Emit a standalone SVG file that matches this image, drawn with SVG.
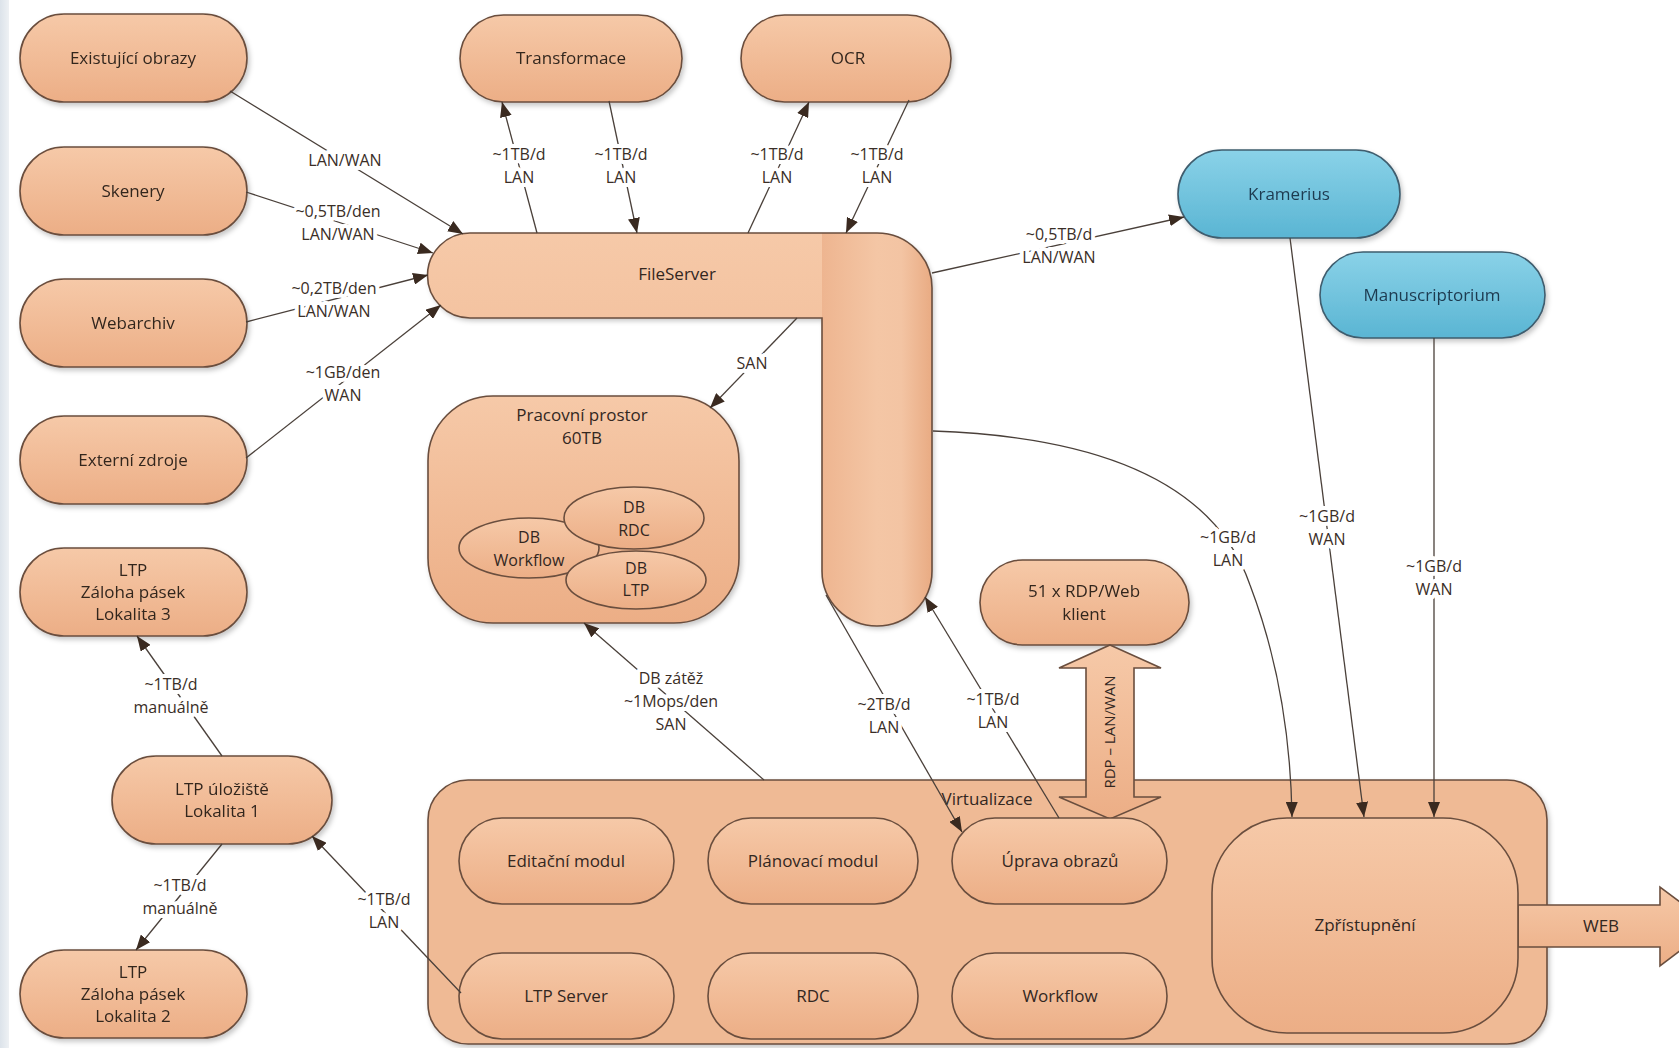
<svg xmlns="http://www.w3.org/2000/svg" width="1679" height="1048" viewBox="0 0 1679 1048">
<defs>
<linearGradient id="peach" x1="0" y1="0" x2="0" y2="1">
<stop offset="0" stop-color="#F6C9A8"/><stop offset="1" stop-color="#ECAE86"/>
</linearGradient>
<linearGradient id="blueg" x1="0" y1="0" x2="0" y2="1">
<stop offset="0" stop-color="#8AD2E8"/><stop offset="1" stop-color="#5AB5D3"/>
</linearGradient>
<linearGradient id="vbar" x1="0" y1="0" x2="1" y2="0">
<stop offset="0" stop-color="#EEB590"/><stop offset="0.5" stop-color="#F4C6A5"/><stop offset="0.72" stop-color="#F3C4A3"/><stop offset="1" stop-color="#E9AB83"/>
</linearGradient>
<linearGradient id="band" x1="0" y1="0" x2="1" y2="0">
<stop offset="0" stop-color="#DCE3EA"/><stop offset="1" stop-color="#EEF1F4"/>
</linearGradient>
<filter id="sh" x="-10%" y="-10%" width="125%" height="130%">
<feDropShadow dx="2" dy="3" stdDeviation="2.5" flood-color="#000" flood-opacity="0.22"/>
</filter>
<clipPath id="lclip"><path d="M470,233 L877,233 A55,55 0 0 1 932,288 L932,571 A55,55 0 0 1 822,571 L822,318 L470,318 A42.5,42.5 0 0 1 470,233 Z"/></clipPath>
<marker id="ah" viewBox="0 0 15 12" refX="15" refY="6" markerWidth="15" markerHeight="12" markerUnits="userSpaceOnUse" orient="auto">
<path d="M0,0 L15,6 L0,12 Z" fill="#3a2a20"/>
</marker>
<style>
.pill{fill:url(#peach);stroke:#6a4e3e;stroke-width:1.6}
.blue{fill:url(#blueg);stroke:#3f5d6e;stroke-width:1.6}
.big{fill:#EFBA95;stroke:#6a4e3e;stroke-width:1.6}
.sh{filter:url(#sh)}
.t{font-family:"Open Sans","Liberation Sans",sans-serif;font-size:17px;fill:#33271f;text-anchor:middle}
.tb{font-family:"Open Sans","Liberation Sans",sans-serif;font-size:17px;fill:#1e3a50;text-anchor:middle}
.s{font-size:16px}
.lbl{font-family:"Open Sans","Liberation Sans",sans-serif;font-size:16px;fill:#3a2e27;text-anchor:middle;stroke:#fff;stroke-width:8;stroke-linejoin:round;paint-order:stroke}
.ln{stroke:#4a403a;stroke-width:1.3;fill:none}
.arr{marker-end:url(#ah)}
</style>
</defs>
<rect width="1679" height="1048" fill="#fff"/>
<rect x="0" y="0" width="9" height="1048" fill="url(#band)"/>

<g id="existujici" class="sh"><rect class="pill" x="20" y="14" width="227" height="88" rx="44"/><text class="t" x="133" y="64">Existující obrazy</text></g>
<g id="skenery" class="sh"><rect class="pill" x="20" y="147" width="227" height="88" rx="44"/><text class="t" x="133" y="197">Skenery</text></g>
<g id="webarchiv" class="sh"><rect class="pill" x="20" y="279" width="227" height="88" rx="44"/><text class="t" x="133" y="329">Webarchiv</text></g>
<g id="externi" class="sh"><rect class="pill" x="20" y="416" width="227" height="88" rx="44"/><text class="t" x="133" y="466">Externí zdroje</text></g>
<g id="ltp3" class="sh"><rect class="pill" x="20" y="548" width="227" height="88" rx="44"/><text class="t" x="133" y="576">LTP</text><text class="t" x="133" y="598">Záloha pásek</text><text class="t" x="133" y="620">Lokalita 3</text></g>
<g id="ltp1" class="sh"><rect class="pill" x="112" y="756" width="220" height="88" rx="44"/><text class="t" x="222" y="795">LTP úložiště</text><text class="t" x="222" y="817">Lokalita 1</text></g>
<g id="ltp2" class="sh"><rect class="pill" x="20" y="950" width="227" height="88" rx="44"/><text class="t" x="133" y="978">LTP</text><text class="t" x="133" y="1000">Záloha pásek</text><text class="t" x="133" y="1022">Lokalita 2</text></g>

<g id="transformace" class="sh"><rect class="pill" x="460" y="15" width="222" height="87" rx="43.5"/><text class="t" x="571" y="64">Transformace</text></g>
<g id="ocr" class="sh"><rect class="pill" x="741" y="15" width="210" height="87" rx="43.5"/><text class="t" x="848" y="64">OCR</text></g>

<g id="fileserver">
<path class="sh" d="M470,233 L877,233 A55,55 0 0 1 932,288 L932,571 A55,55 0 0 1 822,571 L822,318 L470,318 A42.5,42.5 0 0 1 470,233 Z" fill="url(#peach)"/>
<rect x="822" y="233" width="110" height="400" fill="url(#vbar)" clip-path="url(#lclip)"/>
<path d="M470,233 L877,233 A55,55 0 0 1 932,288 L932,571 A55,55 0 0 1 822,571 L822,318 L470,318 A42.5,42.5 0 0 1 470,233 Z" fill="none" stroke="#6a4e3e" stroke-width="1.6"/>
<text class="t" x="677" y="280">FileServer</text>
</g>

<g id="kramerius" class="sh"><rect class="blue" x="1178" y="150" width="222" height="88" rx="44"/><text class="tb" x="1289" y="200">Kramerius</text></g>
<g id="manuscriptorium" class="sh"><rect class="blue" x="1320" y="252" width="225" height="86" rx="43"/><text class="tb" x="1432" y="301">Manuscriptorium</text></g>

<g id="pracovni">
<rect class="pill sh" x="428" y="396" width="311" height="227" rx="65"/>
<text class="t" x="582" y="421">Pracovní prostor</text><text class="t" x="582" y="444">60TB</text>
<g id="db-workflow"><ellipse class="pill" cx="529" cy="548" rx="70" ry="30"/><text class="t s" x="529" y="543">DB</text><text class="t s" x="529" y="566">Workflow</text></g>
<g id="db-rdc"><ellipse class="pill" cx="634" cy="518" rx="70" ry="31"/><text class="t s" x="634" y="513">DB</text><text class="t s" x="634" y="536">RDC</text></g>
<g id="db-ltp"><ellipse class="pill" cx="636" cy="580" rx="70" ry="29"/><text class="t s" x="636" y="574">DB</text><text class="t s" x="636" y="596">LTP</text></g>
</g>

<g id="rdp-klient" class="sh"><rect class="pill" x="980" y="560" width="209" height="85" rx="42.5"/><text class="t" x="1084" y="597">51 x RDP/Web</text><text class="t" x="1084" y="620">klient</text></g>

<g id="virtualizace">
<rect class="big sh" x="428" y="780" width="1119" height="264" rx="40"/>
<text class="t" x="987" y="805">Virtualizace</text>
</g>

<g id="web-arrow">
<polygon class="pill" points="1518,905 1660,905 1660,887 1712,926 1660,966 1660,947 1518,947"/>
<text class="t" x="1601" y="932">WEB</text>
</g>

<g id="rdp-arrow">
<polygon class="pill" points="1110,645 1161,668 1134,668 1134,797 1161,797 1110,819 1059,797 1086,797 1086,668 1059,668"/>
<text class="t" style="font-size:15px" transform="translate(1115,732) rotate(-90)">RDP – LAN/WAN</text>
</g>

<g id="editacni"><rect class="pill" x="459" y="818" width="215" height="86" rx="43"/><text class="t" x="566" y="867">Editační modul</text></g>
<g id="planovaci"><rect class="pill" x="708" y="818" width="210" height="86" rx="43"/><text class="t" x="813" y="867">Plánovací modul</text></g>
<g id="uprava"><rect class="pill" x="952" y="818" width="215" height="86" rx="43"/><text class="t" x="1060" y="867">Úprava obrazů</text></g>
<g id="ltp-server"><rect class="pill" x="459" y="953" width="215" height="86" rx="43"/><text class="t" x="566" y="1002">LTP Server</text></g>
<g id="rdc"><rect class="pill" x="708" y="953" width="210" height="86" rx="43"/><text class="t" x="813" y="1002">RDC</text></g>
<g id="workflow"><rect class="pill" x="952" y="953" width="215" height="86" rx="43"/><text class="t" x="1060" y="1002">Workflow</text></g>
<g id="zpristupneni"><rect class="pill" x="1212" y="818" width="306" height="215" rx="75"/><text class="t" x="1365" y="931">Zpřístupnění</text></g>

<g id="connectors">
<line class="ln arr" x1="230" y1="91" x2="463" y2="234"/>
<line class="ln arr" x1="246" y1="192" x2="433" y2="253"/>
<line class="ln arr" x1="246" y1="322" x2="428" y2="275"/>
<line class="ln arr" x1="246" y1="458" x2="441" y2="305"/>
<line class="ln arr" x1="537" y1="233" x2="502" y2="102"/>
<line class="ln arr" x1="609" y1="101" x2="637" y2="233"/>
<line class="ln arr" x1="748" y1="233" x2="809" y2="102"/>
<line class="ln arr" x1="909" y1="100" x2="846" y2="233"/>
<line class="ln arr" x1="932" y1="273" x2="1184" y2="217"/>
<line class="ln arr" x1="797" y1="318" x2="710" y2="408"/>
<path class="ln arr" d="M933,431 Q1200,440 1250,585 Q1290,690 1292,817"/>
<line class="ln arr" x1="1290" y1="238" x2="1364" y2="817"/>
<line class="ln arr" x1="1434" y1="338" x2="1434" y2="817"/>
<line class="ln arr" x1="764" y1="780" x2="584" y2="623"/>
<line class="ln arr" x1="826" y1="595" x2="962" y2="832"/>
<line class="ln arr" x1="1059" y1="818" x2="925" y2="597"/>
<line class="ln arr" x1="461" y1="993" x2="312" y2="836"/>
<line class="ln arr" x1="222" y1="756" x2="137" y2="636"/>
<line class="ln arr" x1="222" y1="844" x2="136" y2="950"/>

<text class="lbl" x="345" y="166">LAN/WAN</text>
<text class="lbl" x="338" y="217">~0,5TB/den</text><text class="lbl" x="338" y="240">LAN/WAN</text>
<text class="lbl" x="334" y="294">~0,2TB/den</text><text class="lbl" x="334" y="317">LAN/WAN</text>
<text class="lbl" x="343" y="378">~1GB/den</text><text class="lbl" x="343" y="401">WAN</text>
<text class="lbl" x="519" y="160">~1TB/d</text><text class="lbl" x="519" y="183">LAN</text>
<text class="lbl" x="621" y="160">~1TB/d</text><text class="lbl" x="621" y="183">LAN</text>
<text class="lbl" x="777" y="160">~1TB/d</text><text class="lbl" x="777" y="183">LAN</text>
<text class="lbl" x="877" y="160">~1TB/d</text><text class="lbl" x="877" y="183">LAN</text>
<text class="lbl" x="1059" y="240">~0,5TB/d</text><text class="lbl" x="1059" y="263">LAN/WAN</text>
<text class="lbl" x="752" y="369">SAN</text>
<text class="lbl" x="1228" y="543">~1GB/d</text><text class="lbl" x="1228" y="566">LAN</text>
<text class="lbl" x="1327" y="522">~1GB/d</text><text class="lbl" x="1327" y="545">WAN</text>
<text class="lbl" x="1434" y="572">~1GB/d</text><text class="lbl" x="1434" y="595">WAN</text>
<text class="lbl" x="671" y="684">DB zátěž</text><text class="lbl" x="671" y="707">~1Mops/den</text><text class="lbl" x="671" y="730">SAN</text>
<text class="lbl" x="884" y="710">~2TB/d</text><text class="lbl" x="884" y="733">LAN</text>
<text class="lbl" x="993" y="705">~1TB/d</text><text class="lbl" x="993" y="728">LAN</text>
<text class="lbl" x="384" y="905">~1TB/d</text><text class="lbl" x="384" y="928">LAN</text>
<text class="lbl" x="171" y="690">~1TB/d</text><text class="lbl" x="171" y="713">manuálně</text>
<text class="lbl" x="180" y="891">~1TB/d</text><text class="lbl" x="180" y="914">manuálně</text>
</g>
</svg>
